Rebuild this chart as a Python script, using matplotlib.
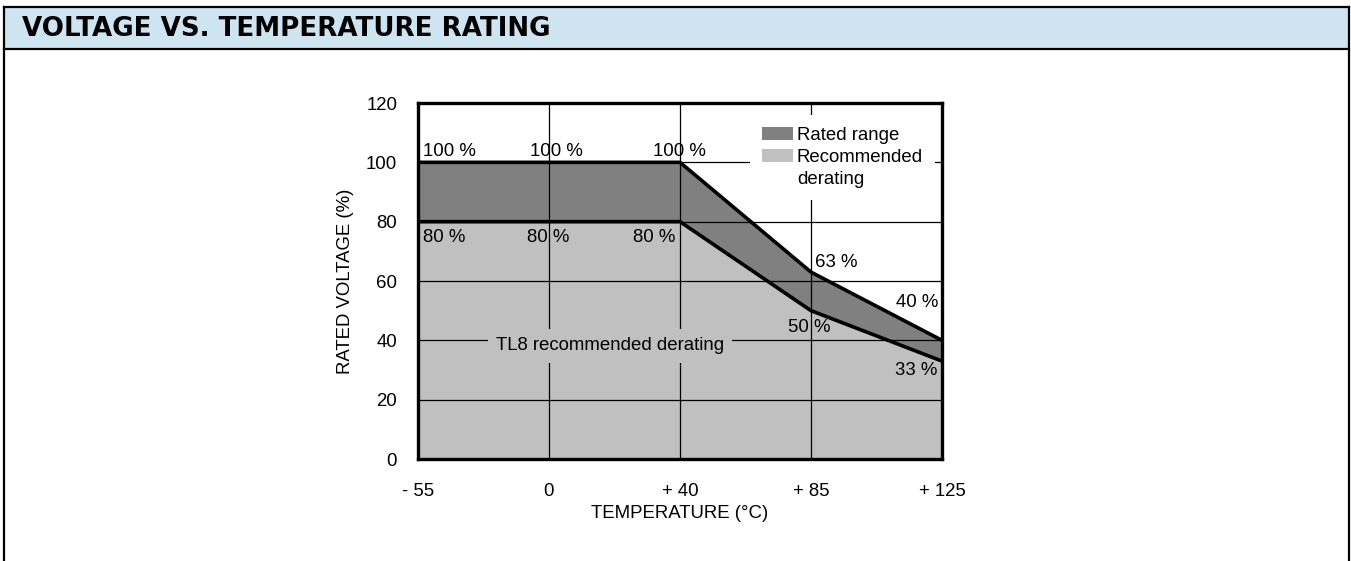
import numpy as np
import matplotlib.pyplot as plt
from matplotlib.patches import Patch, Rectangle
from matplotlib.lines import Line2D

plt.rcParams['font.family'] = ['Liberation Sans', 'DejaVu Sans']

# Data
temps = ['- 55', '0', '+ 40', '+ 85', '+ 125']
rated = [100, 100, 100, 63, 40]
recommended = [80, 80, 80, 50, 33]

x = np.arange(len(temps))

fig = plt.figure(figsize=(13.51, 5.61), dpi=100)

# header band with frame lines
W, H = 1351, 561
fig.patches.append(Rectangle((4 / W, 1 - 49 / H), 1345 / W, 42 / H,
                             transform=fig.transFigure, facecolor='#cee4f1',
                             edgecolor='none', zorder=0))
for xs, ys in [([4, 1349], [7, 7]), ([4, 1349], [49, 49]),
               ([4, 4], [7, 561]), ([1349, 1349], [7, 561])]:
    fig.add_artist(Line2D([v / W for v in xs], [1 - v / H for v in ys],
                          transform=fig.transFigure, color='black', lw=1.6))
fig.text(22 / W, 1 - 29.5 / H, 'VOLTAGE VS. TEMPERATURE RATING',
         fontsize=18.8, fontweight='heavy', family=['DejaVu Sans'],
         va='center', ha='left')

ax = fig.add_axes([418 / W, 102 / H, 524 / W, 356 / H])

# shaded regions
ax.fill_between(x, 0, recommended, color='#c0c0c0', lw=0, zorder=1)
ax.fill_between(x, recommended, rated, color='#808080', lw=0, zorder=1)
ax.plot(x, rated, color='black', lw=2.6, zorder=3, solid_joinstyle='miter')
ax.plot(x, recommended, color='black', lw=2.6, zorder=3, solid_joinstyle='miter')

fs = 13.4

ax.set_xlim(0, 4)
ax.set_ylim(0, 120)
ax.set_xticks(x)
ax.set_xticklabels(temps)
ax.set_yticks([0, 20, 40, 60, 80, 100, 120])
ax.tick_params(length=0, labelsize=fs)
ax.tick_params(axis='y', pad=15)
ax.tick_params(axis='x', pad=17)
ax.grid(True, color='black', lw=0.9)
for s in ax.spines.values():
    s.set_linewidth(2.4)
    s.set_zorder(4)

ax.set_ylabel('RATED VOLTAGE (%)', fontsize=fs)
ax.yaxis.set_label_coords(-(418 - 354) / 524, 0.5)
ax.set_xlabel('TEMPERATURE (°C)', fontsize=fs)
ax.xaxis.set_label_coords(0.5, -(505 - 459) / 356)

# percentage labels
ax.text(0.038, 103.8, '100 %', fontsize=fs, ha='left', va='center')
ax.text(1.053, 103.8, '100 %', fontsize=fs, ha='center', va='center')
ax.text(1.992, 103.8, '100 %', fontsize=fs, ha='center', va='center')
ax.text(0.038, 74.8, '80 %', fontsize=fs, ha='left', va='center')
ax.text(0.992, 74.8, '80 %', fontsize=fs, ha='center', va='center')
ax.text(1.962, 74.8, '80 %', fontsize=fs, ha='right', va='center')
ax.text(3.031, 66.4, '63 %', fontsize=fs, ha='left', va='center')
ax.text(3.969, 52.6, '40 %', fontsize=fs, ha='right', va='center')
ax.text(2.985, 44.2, '50 %', fontsize=fs, ha='center', va='center')
ax.text(3.962, 29.7, '33 %', fontsize=fs, ha='right', va='center')

ax.text(1.466, 38.1, 'TL8 recommended derating', fontsize=fs, ha='center',
        va='center', zorder=5,
        bbox=dict(facecolor='#c0c0c0', edgecolor='none', pad=6))

handles = [Patch(facecolor='#808080', edgecolor='none', label='Rated range'),
           Patch(facecolor='#c0c0c0', edgecolor='none', label='Recommended'),
           Patch(facecolor='none', edgecolor='none', label='derating')]
leg = ax.legend(handles=handles, loc='upper left', bbox_to_anchor=(0.634, 0.966),
                fontsize=fs, frameon=True, facecolor='white', edgecolor='none',
                framealpha=1, fancybox=False, borderpad=0.62, handlelength=1.67,
                handleheight=0.7, handletextpad=0.22, labelspacing=0.28,
                borderaxespad=0)
leg.set_zorder(5)

fig.savefig('out.png', dpi=100)
